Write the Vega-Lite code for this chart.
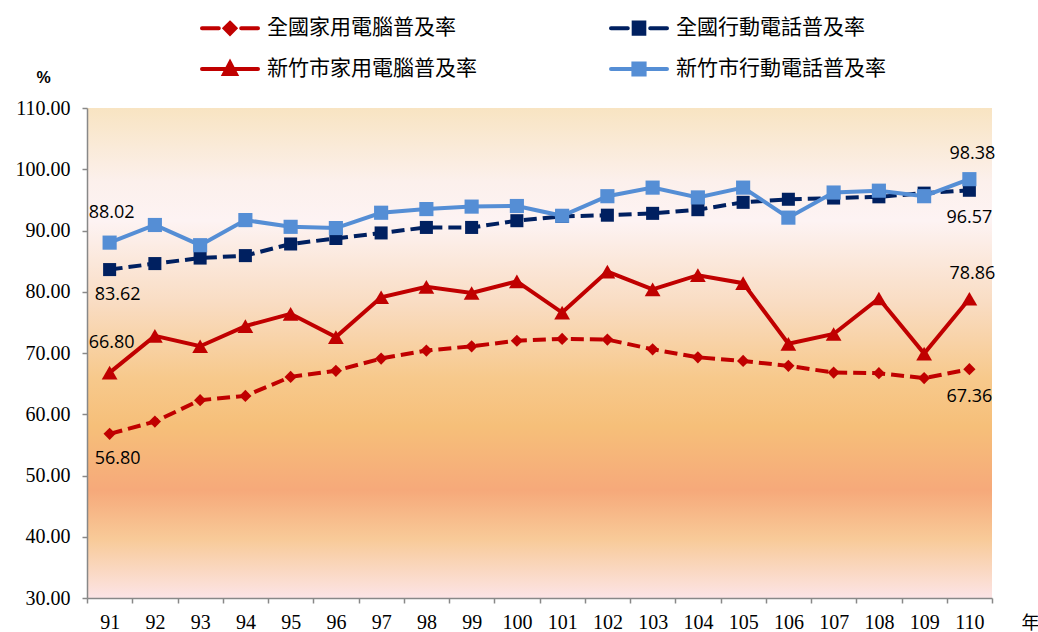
{
  "$schema": "https://vega.github.io/schema/vega-lite/v6.json",
  "width": 905,
  "height": 490,
  "autosize": {"type": "none"},
  "padding": {"left": 87, "top": 108, "right": 46, "bottom": 34},
  "background": "white",
  "view": {
    "stroke": null,
    "fill": {
      "gradient": "linear", "x1": 0, "y1": 0, "x2": 0, "y2": 1,
      "stops": [
        {"offset": 0, "color": "#F8E4C2"},
        {"offset": 0.15, "color": "#FCF0EC"},
        {"offset": 0.23, "color": "#FDF3F3"},
        {"offset": 0.4, "color": "#F9DCC2"},
        {"offset": 0.55, "color": "#F7C98C"},
        {"offset": 0.65, "color": "#F6BF79"},
        {"offset": 0.78, "color": "#F6A97A"},
        {"offset": 0.88, "color": "#F8CA98"},
        {"offset": 1, "color": "#FCE4E6"}
      ]
    }
  },
  "data": {
    "values": [
      {"year": 91, "series": "全國家用電腦普及率", "value": 56.80},
      {"year": 92, "series": "全國家用電腦普及率", "value": 58.8},
      {"year": 93, "series": "全國家用電腦普及率", "value": 62.3},
      {"year": 94, "series": "全國家用電腦普及率", "value": 63.0},
      {"year": 95, "series": "全國家用電腦普及率", "value": 66.1},
      {"year": 96, "series": "全國家用電腦普及率", "value": 67.1},
      {"year": 97, "series": "全國家用電腦普及率", "value": 69.1},
      {"year": 98, "series": "全國家用電腦普及率", "value": 70.4},
      {"year": 99, "series": "全國家用電腦普及率", "value": 71.1},
      {"year": 100, "series": "全國家用電腦普及率", "value": 72.0},
      {"year": 101, "series": "全國家用電腦普及率", "value": 72.3},
      {"year": 102, "series": "全國家用電腦普及率", "value": 72.2},
      {"year": 103, "series": "全國家用電腦普及率", "value": 70.6},
      {"year": 104, "series": "全國家用電腦普及率", "value": 69.3},
      {"year": 105, "series": "全國家用電腦普及率", "value": 68.7},
      {"year": 106, "series": "全國家用電腦普及率", "value": 67.9},
      {"year": 107, "series": "全國家用電腦普及率", "value": 66.8},
      {"year": 108, "series": "全國家用電腦普及率", "value": 66.7},
      {"year": 109, "series": "全國家用電腦普及率", "value": 65.9},
      {"year": 110, "series": "全國家用電腦普及率", "value": 67.36},
      {"year": 91, "series": "全國行動電話普及率", "value": 83.62},
      {"year": 92, "series": "全國行動電話普及率", "value": 84.6},
      {"year": 93, "series": "全國行動電話普及率", "value": 85.5},
      {"year": 94, "series": "全國行動電話普及率", "value": 85.9},
      {"year": 95, "series": "全國行動電話普及率", "value": 87.8},
      {"year": 96, "series": "全國行動電話普及率", "value": 88.7},
      {"year": 97, "series": "全國行動電話普及率", "value": 89.6},
      {"year": 98, "series": "全國行動電話普及率", "value": 90.5},
      {"year": 99, "series": "全國行動電話普及率", "value": 90.5},
      {"year": 100, "series": "全國行動電話普及率", "value": 91.6},
      {"year": 101, "series": "全國行動電話普及率", "value": 92.3},
      {"year": 102, "series": "全國行動電話普及率", "value": 92.5},
      {"year": 103, "series": "全國行動電話普及率", "value": 92.8},
      {"year": 104, "series": "全國行動電話普及率", "value": 93.4},
      {"year": 105, "series": "全國行動電話普及率", "value": 94.6},
      {"year": 106, "series": "全國行動電話普及率", "value": 95.1},
      {"year": 107, "series": "全國行動電話普及率", "value": 95.3},
      {"year": 108, "series": "全國行動電話普及率", "value": 95.5},
      {"year": 109, "series": "全國行動電話普及率", "value": 96.1},
      {"year": 110, "series": "全國行動電話普及率", "value": 96.57},
      {"year": 91, "series": "新竹市家用電腦普及率", "value": 66.80},
      {"year": 92, "series": "新竹市家用電腦普及率", "value": 72.8},
      {"year": 93, "series": "新竹市家用電腦普及率", "value": 71.1},
      {"year": 94, "series": "新竹市家用電腦普及率", "value": 74.4},
      {"year": 95, "series": "新竹市家用電腦普及率", "value": 76.4},
      {"year": 96, "series": "新竹市家用電腦普及率", "value": 72.6},
      {"year": 97, "series": "新竹市家用電腦普及率", "value": 79.1},
      {"year": 98, "series": "新竹市家用電腦普及率", "value": 80.8},
      {"year": 99, "series": "新竹市家用電腦普及率", "value": 79.8},
      {"year": 100, "series": "新竹市家用電腦普及率", "value": 81.7},
      {"year": 101, "series": "新竹市家用電腦普及率", "value": 76.6},
      {"year": 102, "series": "新竹市家用電腦普及率", "value": 83.3},
      {"year": 103, "series": "新竹市家用電腦普及率", "value": 80.4},
      {"year": 104, "series": "新竹市家用電腦普及率", "value": 82.7},
      {"year": 105, "series": "新竹市家用電腦普及率", "value": 81.4},
      {"year": 106, "series": "新竹市家用電腦普及率", "value": 71.5},
      {"year": 107, "series": "新竹市家用電腦普及率", "value": 73.1},
      {"year": 108, "series": "新竹市家用電腦普及率", "value": 78.9},
      {"year": 109, "series": "新竹市家用電腦普及率", "value": 69.9},
      {"year": 110, "series": "新竹市家用電腦普及率", "value": 78.86},
      {"year": 91, "series": "新竹市行動電話普及率", "value": 88.02},
      {"year": 92, "series": "新竹市行動電話普及率", "value": 90.9},
      {"year": 93, "series": "新竹市行動電話普及率", "value": 87.6},
      {"year": 94, "series": "新竹市行動電話普及率", "value": 91.7},
      {"year": 95, "series": "新竹市行動電話普及率", "value": 90.6},
      {"year": 96, "series": "新竹市行動電話普及率", "value": 90.4},
      {"year": 97, "series": "新竹市行動電話普及率", "value": 92.9},
      {"year": 98, "series": "新竹市行動電話普及率", "value": 93.5},
      {"year": 99, "series": "新竹市行動電話普及率", "value": 93.9},
      {"year": 100, "series": "新竹市行動電話普及率", "value": 94.0},
      {"year": 101, "series": "新竹市行動電話普及率", "value": 92.4},
      {"year": 102, "series": "新竹市行動電話普及率", "value": 95.6},
      {"year": 103, "series": "新竹市行動電話普及率", "value": 97.0},
      {"year": 104, "series": "新竹市行動電話普及率", "value": 95.4},
      {"year": 105, "series": "新竹市行動電話普及率", "value": 97.0},
      {"year": 106, "series": "新竹市行動電話普及率", "value": 92.1},
      {"year": 107, "series": "新竹市行動電話普及率", "value": 96.2},
      {"year": 108, "series": "新竹市行動電話普及率", "value": 96.5},
      {"year": 109, "series": "新竹市行動電話普及率", "value": 95.6},
      {"year": 110, "series": "新竹市行動電話普及率", "value": 98.38}
    ]
  },
  "encoding": {
    "x": {
      "field": "year", "type": "ordinal",
      "scale": {"type": "band", "paddingInner": 0, "paddingOuter": 0},
      "axis": {
        "title": "年", "titleX": 943, "titleY": 25, "titleAlign": "center", "titleBaseline": "middle",
        "titleFont": "Noto Sans CJK TC", "titleFontSize": 18, "titleFontWeight": "normal", "titleColor": "#000",
        "labelAngle": 0, "labelFont": "Liberation Serif", "labelFontSize": 20, "labelColor": "#000",
        "labelPadding": 9, "tickBand": "extent", "tickSize": 5, "tickColor": "#888888",
        "domainColor": "#888888", "domainWidth": 1.5, "tickWidth": 1.5, "grid": false
      }
    },
    "y": {
      "field": "value", "type": "quantitative",
      "scale": {"domain": [30, 110], "nice": false, "zero": false},
      "axis": {
        "values": [30, 40, 50, 60, 70, 80, 90, 100, 110], "format": ".2f",
        "title": "%", "titleAngle": 0, "titleX": -44, "titleY": -31, "titleAlign": "center", "titleBaseline": "middle",
        "titleFont": "Liberation Sans", "titleFontSize": 16, "titleFontWeight": "bold", "titleColor": "#000",
        "labelFont": "Liberation Serif", "labelFontSize": 20, "labelColor": "#000", "labelPadding": 12,
        "tickSize": 5, "tickColor": "#888888", "domainColor": "#888888", "domainWidth": 1.5, "tickWidth": 1.5, "grid": false
      }
    },
    "color": {
      "field": "series", "type": "nominal",
      "scale": {
        "domain": ["全國家用電腦普及率", "全國行動電話普及率", "新竹市家用電腦普及率", "新竹市行動電話普及率"],
        "range": ["#C00000", "#002060", "#C00000", "#558ED5"]
      },
      "legend": {
        "orient": "none", "legendX": 113, "legendY": -96, "title": null,
        "columns": 2, "direction": "horizontal", "columnPadding": 126, "rowPadding": 11,
        "gridAlign": "each", "padding": 0,
        "symbolSize": 784, "symbolStrokeWidth": 4, "symbolType": "circle",
        "labelFont": "Noto Sans CJK TC", "labelFontSize": 21, "labelColor": "#000", "labelOffset": 35,
        "labelLimit": 400,
        "encode": {
          "symbols": {
            "update": {
              "shape": {"signal": "datum.value === '全國家用電腦普及率' ? 'M-1,0L0.2,0M1.8,0L3,0M1,-0.38L1.38,0L1,0.38L0.62,0Z' : datum.value === '全國行動電話普及率' ? 'M-1,0L0.2,0M1.8,0L3,0M0.62,-0.4L1.38,-0.4L1.38,0.4L0.62,0.4Z' : datum.value === '新竹市家用電腦普及率' ? 'M-1,0L3,0M1,-0.45L1.42,0.35L0.58,0.35Z' : 'M-1,0L3,0M0.6,-0.4L1.4,-0.4L1.4,0.4L0.6,0.4Z'"},
              "size": {"value": 784},
              "fill": {"signal": "scale('color', datum.value)"},
              "stroke": {"signal": "scale('color', datum.value)"},
              "strokeWidth": {"value": 4},
              "strokeCap": {"value": "round"},
              "opacity": {"value": 1},
              "fillOpacity": {"value": 1},
              "strokeOpacity": {"value": 1}
            }
          }
        }
      }
    }
  },
  "layer": [
    {
      "transform": [{"filter": "datum.series == '全國家用電腦普及率' || datum.series == '全國行動電話普及率'"}],
      "mark": {"type": "line", "strokeWidth": 4, "strokeDash": [13, 6]}
    },
    {
      "transform": [{"filter": "datum.series == '新竹市家用電腦普及率' || datum.series == '新竹市行動電話普及率'"}],
      "mark": {"type": "line", "strokeWidth": 4}
    },
    {
      "transform": [{"filter": "datum.series == '全國家用電腦普及率'"}],
      "mark": {"type": "point", "filled": true, "opacity": 1, "shape": "diamond", "size": 150}
    },
    {
      "transform": [{"filter": "datum.series == '全國行動電話普及率'"}],
      "mark": {"type": "point", "filled": true, "opacity": 1, "shape": "square", "size": 170}
    },
    {
      "transform": [{"filter": "datum.series == '新竹市家用電腦普及率'"}],
      "mark": {"type": "point", "filled": true, "opacity": 1, "shape": "triangle-up", "size": 250}
    },
    {
      "transform": [{"filter": "datum.series == '新竹市行動電話普及率'"}],
      "mark": {"type": "point", "filled": true, "opacity": 1, "shape": "square", "size": 200}
    },
    {
      "transform": [{"filter": "datum.year == 91 && (datum.series == '新竹市家用電腦普及率' || datum.series == '新竹市行動電話普及率')"}],
      "mark": {"type": "text", "font": "Open Sans", "fontSize": 18, "align": "center", "baseline": "middle", "dy": -30, "dx": 2},
      "encoding": {"text": {"field": "value", "format": ".2f"}, "color": {"value": "#000000"}}
    },
    {
      "transform": [{"filter": "datum.year == 110 && (datum.series == '新竹市家用電腦普及率' || datum.series == '新竹市行動電話普及率')"}],
      "mark": {"type": "text", "font": "Open Sans", "fontSize": 18, "align": "center", "baseline": "middle", "dy": -25, "dx": 3},
      "encoding": {"text": {"field": "value", "format": ".2f"}, "color": {"value": "#000000"}}
    },
    {
      "transform": [{"filter": "datum.year == 91 && (datum.series == '全國家用電腦普及率' || datum.series == '全國行動電話普及率')"}],
      "mark": {"type": "text", "font": "Open Sans", "fontSize": 18, "align": "center", "baseline": "middle", "dy": 25, "dx": 8},
      "encoding": {"text": {"field": "value", "format": ".2f"}, "color": {"value": "#000000"}}
    },
    {
      "transform": [{"filter": "datum.year == 110 && (datum.series == '全國家用電腦普及率' || datum.series == '全國行動電話普及率')"}],
      "mark": {"type": "text", "font": "Open Sans", "fontSize": 18, "align": "center", "baseline": "middle", "dy": 28, "dx": 0},
      "encoding": {"text": {"field": "value", "format": ".2f"}, "color": {"value": "#000000"}}
    }
  ]
}
